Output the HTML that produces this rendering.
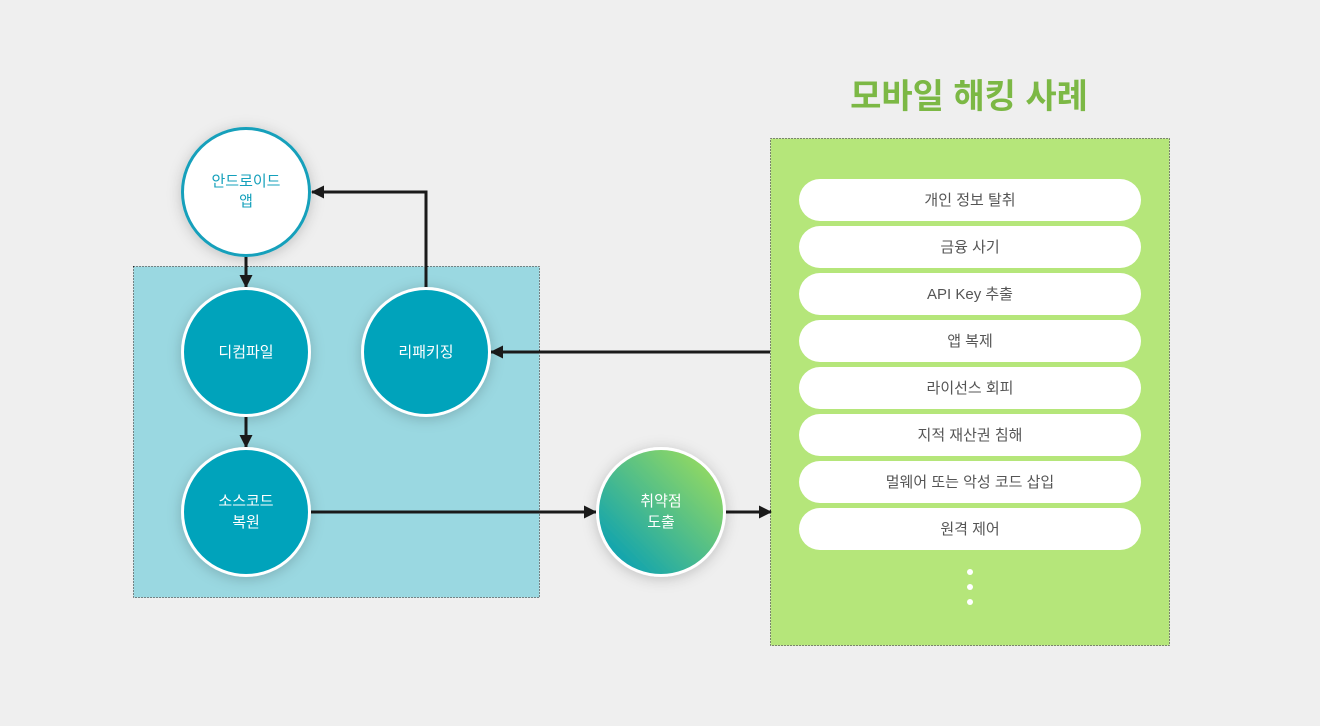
<!DOCTYPE html>
<html><head><meta charset="utf-8">
<style>
html,body{margin:0;padding:0;background:#efefef;}
svg{display:block;}
text{font-family:"Liberation Sans","Noto Sans CJK KR",sans-serif;}
</style></head>
<body>
<svg width="1320" height="726" viewBox="0 0 1320 726" xmlns="http://www.w3.org/2000/svg">
<defs>
  <filter id="sh" x="-40%" y="-40%" width="180%" height="180%">
    <feDropShadow dx="0" dy="2" stdDeviation="7" flood-color="#000" flood-opacity="0.2"/>
  </filter>
  <linearGradient id="g1" x1="0.15" y1="0.85" x2="0.85" y2="0.15">
    <stop offset="0" stop-color="#12a4ae"/>
    <stop offset="1" stop-color="#8ed765"/>
  </linearGradient>
  <marker id="ah" markerWidth="14" markerHeight="14" refX="12" refY="6.5" orient="auto" markerUnits="userSpaceOnUse">
    <path d="M0,0 L13,6.5 L0,13 Z" fill="#1a1a1a"/>
  </marker>
</defs>
<rect width="1320" height="726" fill="#efefef"/>

<!-- blue box -->
<rect x="133.5" y="266.5" width="406" height="331" fill="#9ad8e1" stroke="#222" stroke-width="1" stroke-dasharray="1,2"/>

<!-- green box -->
<rect x="770.5" y="138.5" width="399" height="507" fill="#b5e67a" stroke="#222" stroke-width="1" stroke-dasharray="1,2"/>

<!-- title -->
<text x="969" y="108" text-anchor="middle" font-size="34" font-weight="bold" fill="#7cb845">모바일 해킹 사례</text>

<!-- connectors -->
<g stroke="#1a1a1a" stroke-width="3" fill="none">
  <line x1="246" y1="257" x2="246" y2="287" marker-end="url(#ah)"/>
  <line x1="246" y1="417" x2="246" y2="447" marker-end="url(#ah)"/>
  <polyline points="426,288 426,192 312,192" marker-end="url(#ah)"/>
  <line x1="770" y1="352" x2="491" y2="352" marker-end="url(#ah)"/>
  <line x1="311" y1="512" x2="596" y2="512" marker-end="url(#ah)"/>
  <line x1="726" y1="512" x2="771" y2="512" marker-end="url(#ah)"/>
</g>

<!-- circles -->
<g filter="url(#sh)">
  <circle cx="246" cy="192" r="63.5" fill="#fff" stroke="#14a0bb" stroke-width="3"/>
  <circle cx="246" cy="352" r="63.5" fill="#02a3bb" stroke="#fff" stroke-width="3"/>
  <circle cx="426" cy="352" r="63.5" fill="#02a3bb" stroke="#fff" stroke-width="3"/>
  <circle cx="246" cy="512" r="63.5" fill="#02a3bb" stroke="#fff" stroke-width="3"/>
  <circle cx="661" cy="512" r="63.5" fill="url(#g1)" stroke="#fff" stroke-width="3"/>
</g>

<g font-size="15" text-anchor="middle">
  <text x="246" y="186" fill="#14a0bb">안드로이드</text>
  <text x="246" y="206" fill="#14a0bb">앱</text>
  <text x="246" y="357" fill="#fff">디컴파일</text>
  <text x="426" y="357" fill="#fff">리패키징</text>
  <text x="246" y="506" fill="#fff">소스코드</text>
  <text x="246" y="527" fill="#fff">복원</text>
  <text x="661" y="506" fill="#fff">취약점</text>
  <text x="661" y="527" fill="#fff">도출</text>
</g>

<!-- pills -->
<g fill="#fff">
  <rect x="799" y="179" width="342" height="42" rx="21"/>
  <rect x="799" y="226" width="342" height="42" rx="21"/>
  <rect x="799" y="273" width="342" height="42" rx="21"/>
  <rect x="799" y="320" width="342" height="42" rx="21"/>
  <rect x="799" y="367" width="342" height="42" rx="21"/>
  <rect x="799" y="414" width="342" height="42" rx="21"/>
  <rect x="799" y="461" width="342" height="42" rx="21"/>
  <rect x="799" y="508" width="342" height="42" rx="21"/>
</g>
<g font-size="15" text-anchor="middle" fill="#555">
  <text x="970" y="205">개인 정보 탈취</text>
  <text x="970" y="252">금융 사기</text>
  <text x="970" y="299">API Key 추출</text>
  <text x="970" y="346">앱 복제</text>
  <text x="970" y="393">라이선스 회피</text>
  <text x="970" y="440">지적 재산권 침해</text>
  <text x="970" y="487">멀웨어 또는 악성 코드 삽입</text>
  <text x="970" y="534">원격 제어</text>
</g>

<g fill="#fff">
  <circle cx="970" cy="572" r="3"/>
  <circle cx="970" cy="587" r="3"/>
  <circle cx="970" cy="602" r="3"/>
</g>
</svg>
</body></html>
